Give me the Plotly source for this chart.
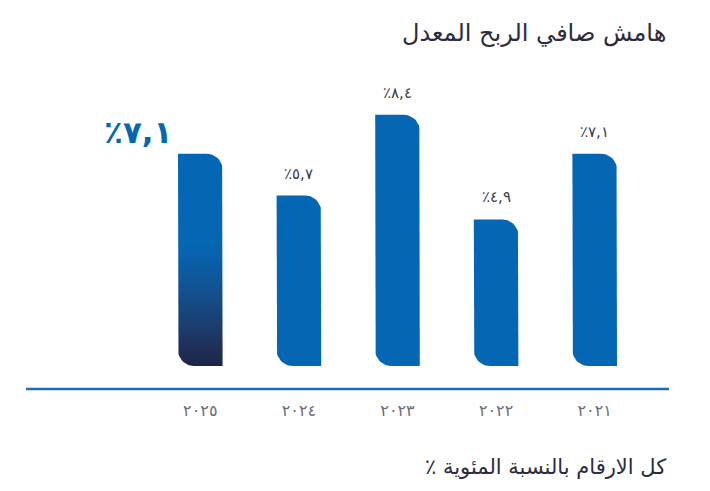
import numpy as np
import plotly.graph_objects as go

# Adjusted net profit margin, newest year on the left
years = ["٢٠٢٥", "٢٠٢٤", "٢٠٢٣", "٢٠٢٢", "٢٠٢١"]
values = [7.1, 5.7, 8.4, 4.9, 7.1]
value_labels = ["٪٧,١", "٪٥,٧", "٪٨,٤", "٪٤,٩", "٪٧,١"]

title_text = "هامش صافي الربح المعدل"
# trailing RLM keeps the percent sign at the end of the right-to-left line
footnote_text = "كل الارقام بالنسبة المئوية ٪\u200f"

W, H = 710, 491
BLUE = "#0567b3"
NAVY = "#1d2547"
TEXT = "#3b3b4a"
FONT = "DejaVu Sans"

# plot area in pixels
px_left, px_right = 151, 644
px_top, px_bottom = 60, 390
x_range = [-0.5, len(years) - 0.5]
zero_px = 366
unit_px = 29.9
y_range = [-(px_bottom - zero_px) / unit_px, (zero_px - px_top) / unit_px]

x_unit_px = (px_right - px_left) / (x_range[1] - x_range[0])
half_w = 22.3 / x_unit_px
rad_px = 16
rx = rad_px / x_unit_px
ry = rad_px / unit_px


def bar_outline(xc, v, n=14):
    """Bar with rounded top-right and bottom-left corners."""
    x0, x1 = xc - half_w, xc + half_w
    t = np.linspace(0, np.pi / 2, n)
    xs = [x1]
    ys = [0]
    # top-right corner
    xs += list(x1 - rx + rx * np.cos(t))
    ys += list(v - ry + ry * np.sin(t))
    xs += [x0, x0]
    ys += [v, ry]
    # bottom-left corner
    xs += list(x0 + rx - rx * np.cos(t))
    ys += list(ry - ry * np.sin(t))
    xs += [x1]
    ys += [0]
    return xs, ys


fig = go.Figure()

for i, (yr, v) in enumerate(zip(years, values)):
    xs, ys = bar_outline(i, v)
    kw = dict(fillcolor=BLUE)
    if i == 0:
        kw = dict(
            fillgradient=dict(
                type="vertical",
                start=0,
                stop=v,
                colorscale=[
                    [0.0, NAVY],
                    [0.08, "#1f2f58"],
                    [0.22, "#1a4276"],
                    [0.38, "#105495"],
                    [0.52, "#0862ac"],
                    [0.6, BLUE],
                    [1.0, BLUE],
                ],
            )
        )
    fig.add_trace(
        go.Scatter(
            x=xs, y=ys, mode="lines", fill="toself",
            line=dict(width=0, color=BLUE),
            hoverinfo="skip", showlegend=False, **kw,
        )
    )

# value labels above bars (the newest year gets a large label at its side)
for i, (v, lab) in enumerate(zip(values, value_labels)):
    if i == 0:
        fig.add_annotation(
            x=i - half_w, y=v, xref="x", yref="y",
            text=f"<b>{lab}</b>", showarrow=False,
            xanchor="right", yanchor="bottom", xshift=-3, yshift=2,
            font=dict(family=FONT, size=31, color=BLUE),
        )
    else:
        fig.add_annotation(
            x=i, y=v, xref="x", yref="y",
            text=lab, showarrow=False,
            xanchor="center", yanchor="bottom", yshift=11,
            font=dict(family=FONT, size=15, color=TEXT),
        )

# baseline
fig.add_shape(
    type="line", xref="paper", yref="paper",
    x0=26 / W, x1=669 / W, y0=1 - 389 / H, y1=1 - 389 / H,
    line=dict(color="#1a6fb5", width=2.5),
)

fig.add_annotation(
    x=668 / W, y=1 - 33 / H, xref="paper", yref="paper",
    text=title_text, showarrow=False, xanchor="right", yanchor="middle",
    font=dict(family=FONT, size=24, color="#2c2c3a"),
)
fig.add_annotation(
    x=668 / W, y=1 - 467 / H, xref="paper", yref="paper",
    text=footnote_text, showarrow=False, xanchor="right", yanchor="middle",
    font=dict(family=FONT, size=21, color="#2c2c3a"),
)

fig.update_layout(
    width=W, height=H,
    margin=dict(l=0, r=0, t=0, b=0),
    paper_bgcolor="white", plot_bgcolor="white",
    xaxis=dict(
        domain=[px_left / W, px_right / W], range=x_range,
        tickvals=list(range(len(years))), ticktext=years,
        showgrid=False, zeroline=False, showline=False, ticks="",
        ticklabelstandoff=9,
        tickfont=dict(family=FONT, size=16, color="#6b6b78"),
        fixedrange=True,
    ),
    yaxis=dict(
        domain=[1 - px_bottom / H, 1 - px_top / H], range=y_range,
        showgrid=False, zeroline=False, showline=False,
        showticklabels=False, ticks="", fixedrange=True,
    ),
)

fig.write_html("out.html")
